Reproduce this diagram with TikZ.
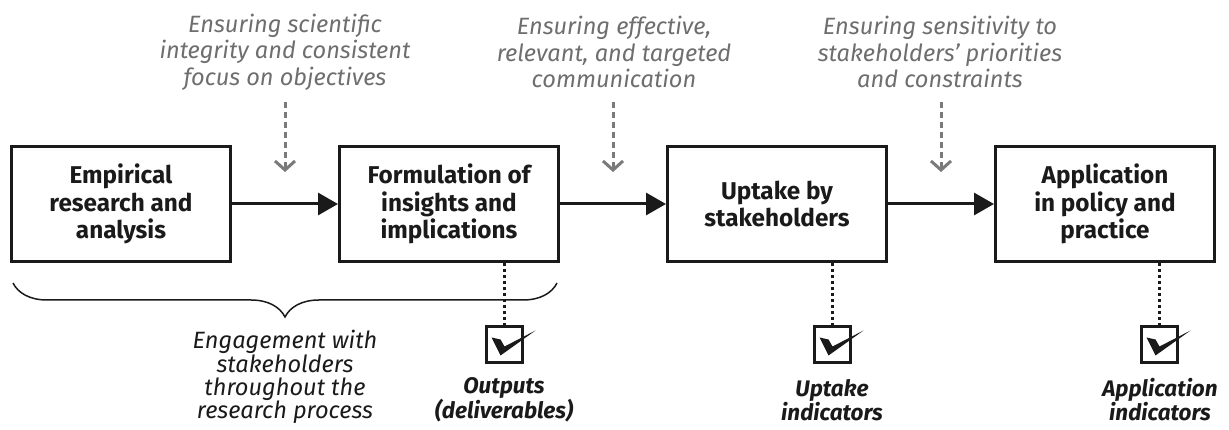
\documentclass[tikz,border=0pt]{standalone}
\usepackage{fontspec}
\setmainfont{Fira Sans}
\usetikzlibrary{arrows.meta,decorations.pathreplacing,calc}
\definecolor{txtgray}{HTML}{6E6E6E}
\definecolor{arrgray}{HTML}{7A7A7A}
\definecolor{ink}{HTML}{1A1A1A}
\begin{document}
\begin{tikzpicture}[x=1pt,y=-1pt,
  stage/.style={draw=ink, line width=3pt, minimum width=219pt, minimum height=115pt,
    inner sep=0pt, align=center, text=ink, font=\fontsize{24.3}{27.5}\selectfont\bfseries},
  flow/.style={draw=ink, line width=3pt, -{Triangle[length=20pt,width=22pt]}},
  ensure/.style={align=center, text=txtgray, inner sep=0pt, font=\fontsize{23.6}{26.5}\selectfont\itshape},
  guide/.style={draw=arrgray, line width=3pt, dash pattern=on 6pt off 4pt,
    -{Straight Barb[length=9pt,width=20pt,line width=3pt]}},
  dotline/.style={draw=ink, line width=3.5pt, dash pattern=on 3pt off 3pt},
  tick/.style={draw=ink, line width=3.5pt, minimum size=36pt, inner sep=0pt},
  indic/.style={align=center, text=ink, inner sep=0pt, font=\fontsize{22.5}{24}\selectfont\bfseries\itshape},
  engage/.style={align=center, text=ink, inner sep=0pt, font=\fontsize{23.6}{23.3}\selectfont\itshape},
  bracel/.style={draw=ink, line width=1.5pt, decorate, decoration={brace, amplitude=34pt}},
]
\useasboundingbox (0,0) rectangle (1229,430);

% stages
\node[stage] (b1) at (121,204) {Empirical\\research and\\analysis};
\node[stage] (b2) at (449,204) {Formulation of\\insights and\\implications};
\node[stage] (b3) at (777,204) {Uptake by\\stakeholders};
\node[stage] (b4) at (1105,204) {Application\\in policy and\\practice};

\draw[flow] (b1) -- (b2);
\draw[flow] (b2) -- (b3);
\draw[flow] (b3) -- (b4);

% top texts
\node[ensure] (t1) at (285,52) {Ensuring scientific\\integrity and consistent\\focus on objectives};
\node[ensure] (t2) at (614,52) {Ensuring effective,\\relevant, and targeted\\communication};
\node[ensure] (t3) at (940,52) {Ensuring sensitivity to\\stakeholders' priorities\\and constraints};

\coordinate (g1a) at (285,102); \coordinate (g1b) at (285,172);
\coordinate (g2a) at (613,102); \coordinate (g2b) at (613,172);
\coordinate (g3a) at (941,102); \coordinate (g3b) at (941,172);
\draw[guide] (g1a) -- (g1b);
\draw[guide] (g2a) -- (g2b);
\draw[guide] (g3a) -- (g3b);

% checkboxes
\node[tick] (c2) at (504.5,344.5) {};
\node[tick] (c3) at (832.5,344.5) {};
\node[tick] (c4) at (1159.5,344.5) {};
\foreach \c in {c2,c3,c4}{
  \fill[ink] ($(\c.center)+(-13,-7)$) -- ($(\c.center)+(-4,-5)$) -- ($(\c.center)+(0,2)$)
     -- ($(\c.center)+(31,-14)$) -- ($(\c.center)+(-4,11)$) -- cycle;
}
\draw[dotline] (b2.south -| c2.north) -- (c2.north);
\draw[dotline] (b3.south -| c3.north) -- (c3.north);
\draw[dotline] (b4.south -| c4.north) -- (c4.north);

\node[indic] (l2) at (504,400) {Outputs\\(deliverables)};
\node[indic] (l3) at (832,400) {Uptake\\indicators};
\node[indic] (l4) at (1160,400) {Application\\indicators};

% brace
\coordinate (br1) at (557,283);
\coordinate (br0) at (13,283);
\draw[bracel] (br1) -- (br0);
\node[engage] (eng) at (285,377) {Engagement with\\stakeholders\\throughout the\\research process};
\end{tikzpicture}
\end{document}
